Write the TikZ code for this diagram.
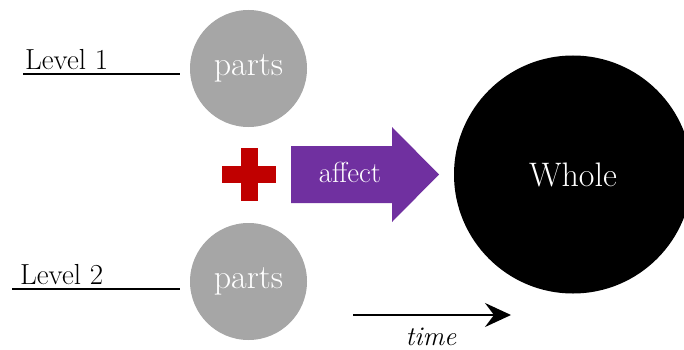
\documentclass[tikz,border=0pt]{standalone}
\usepackage{tikz}
\usetikzlibrary{arrows.meta}
\definecolor{partgray}{HTML}{A6A6A6}
\definecolor{affectpurple}{HTML}{7030A0}
\definecolor{plusred}{HTML}{C00000}
\tikzset{
  partcircle/.style={circle, fill=partgray, inner sep=0pt, minimum size=117pt, text=white, font=\fontsize{34}{40}\selectfont},
  leveltext/.style={anchor=base west, inner sep=0pt, font=\fontsize{29}{34}\selectfont},
  levelline/.style={line width=2pt}
}

\begin{document}
\begin{tikzpicture}[x=1pt, y=-1pt]
      \clip (0, 0) rectangle (684, 350);
      \def\rwhole{238pt}
      \def\ptup{(248.5, 68.5)}
      \def\ptdown{(248.5, 281.5)}
      \def\ptwhole{(573, 174.5)}

      % Levels
      \node[leveltext] (lvlone) at (25, 70) {Level 1};
      \coordinate (lvlonea) at (23, 74.5);
      \coordinate (lvloneb) at (180, 74.5);
      \draw[levelline] (lvlonea) -- (lvloneb);
      \node[leveltext] (lvltwo) at (20, 284) {Level 2};
      \coordinate (lvltwoa) at (12, 289);
      \coordinate (lvltwob) at (180, 289);
      \draw[levelline] (lvltwoa) -- (lvltwob);

      % Parts
      \node[partcircle] (partsup) at \ptup {parts};
      \node[partcircle] (partsdown) at \ptdown {parts};

      % Plus sign
      \fill[plusred] (241, 148) rectangle (258, 201);
      \fill[plusred] (222, 166) rectangle (276, 183);

      % Affect arrow
      \fill[affectpurple] (291, 146) -- (392, 146) -- (392, 127) -- (439, 174.5)
        -- (392, 222) -- (392, 203) -- (291, 203) -- cycle;
      \node[anchor=base, inner sep=0pt, text=white, font=\fontsize{29}{34}\selectfont] (affect) at (350, 182) {affect};

      % Whole
      \node[circle, fill=black, inner sep=0pt, minimum size=\rwhole, text=white, font=\fontsize{34}{40}\selectfont] (whole) at \ptwhole {Whole};

      % Time axis
      \coordinate (timea) at (353, 315);
      \coordinate (timeb) at (511, 315);
      \draw[line width=2pt, -{Stealth[length=26pt, width=24pt, inset=9pt]}] (timea) -- (timeb);
      \node[anchor=base, inner sep=0pt, font=\fontsize{27}{32}\selectfont\itshape] (time) at (431, 345) {time};
    \end{tikzpicture}
\end{document}
